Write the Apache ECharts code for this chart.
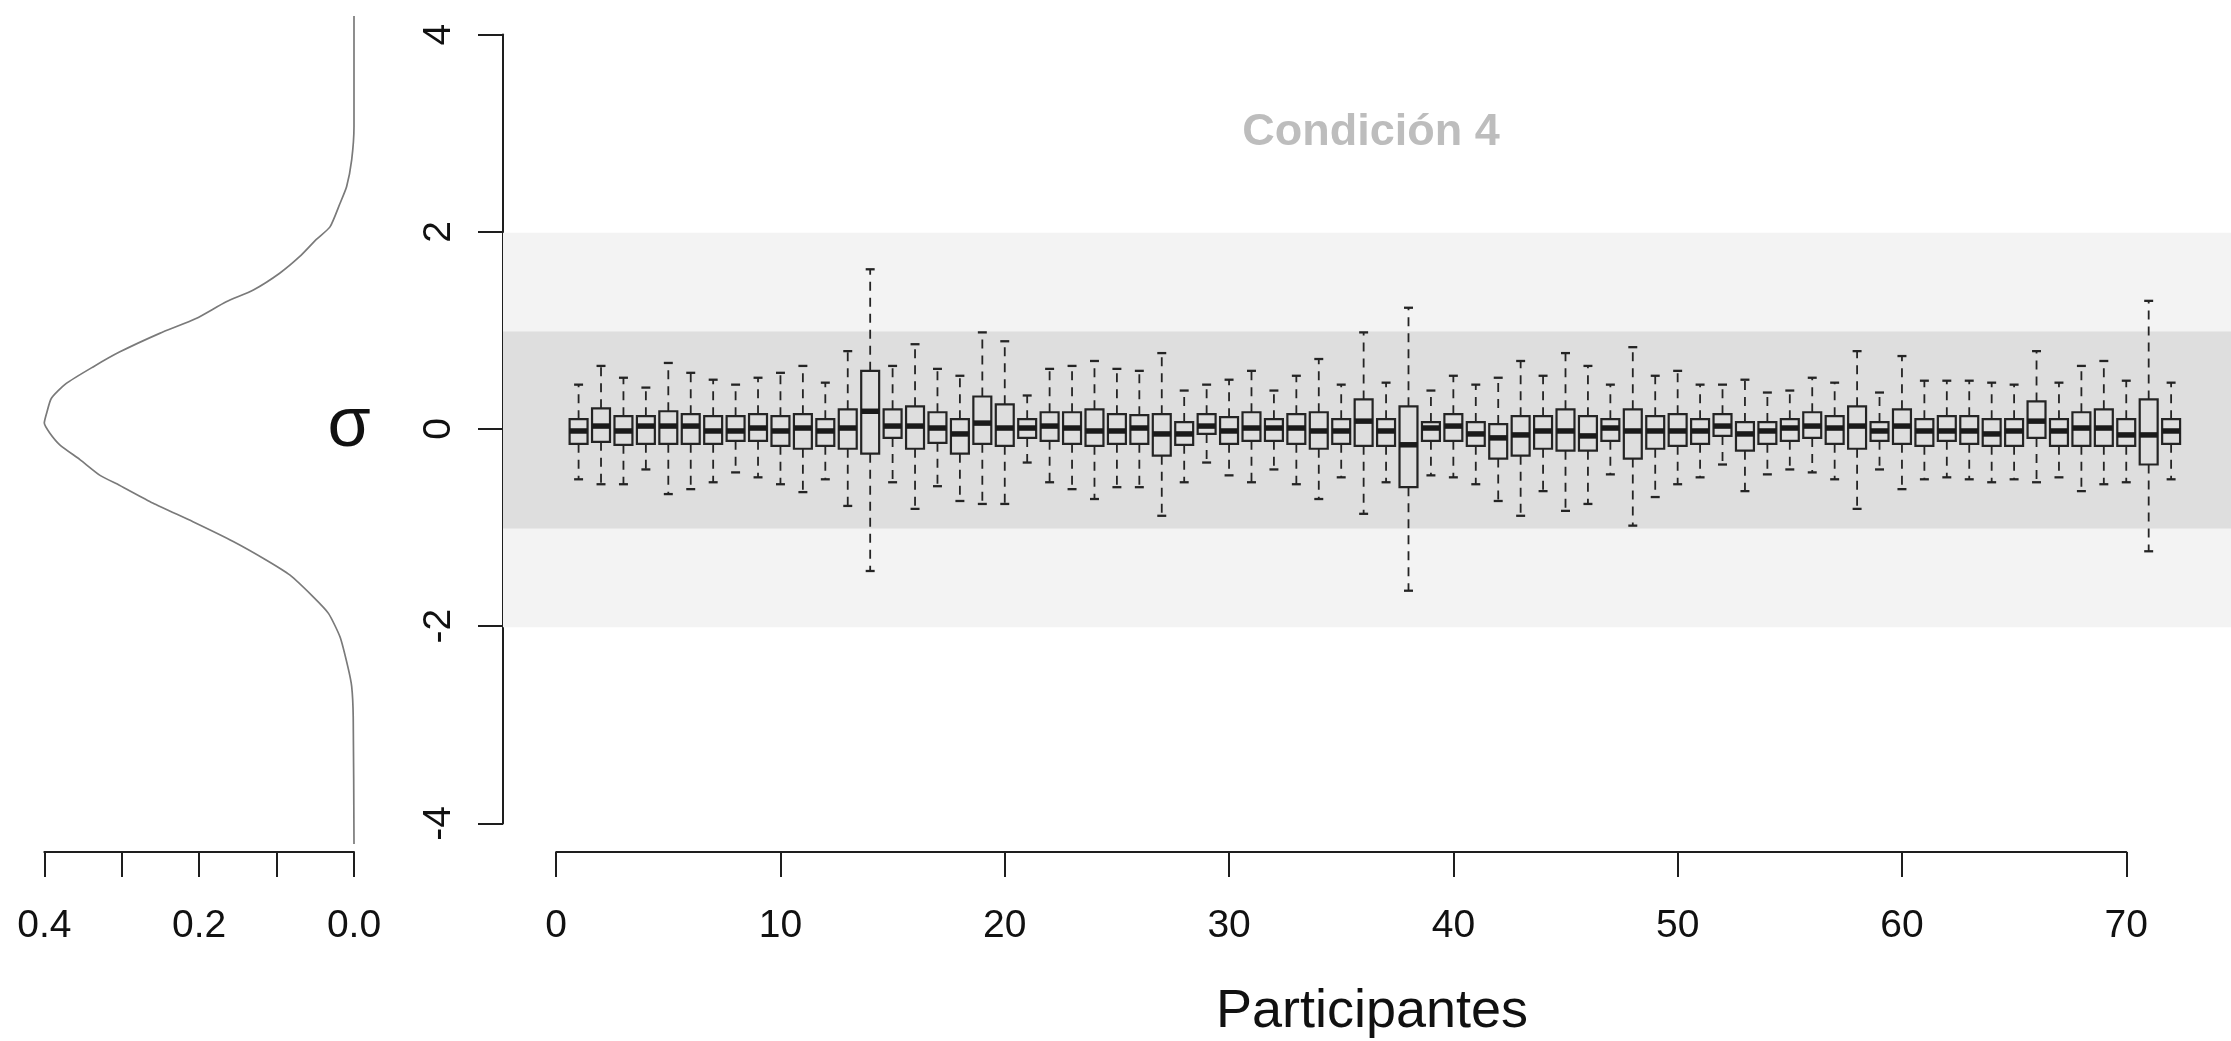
<!DOCTYPE html>
<html>
<head>
<meta charset="utf-8">
<title>Condición 4</title>
<script src="https://cdn.jsdelivr.net/npm/echarts@6/dist/echarts.min.js"></script>
<style>
  html, body { margin: 0; padding: 0; background: #ffffff; }
  #chart { width: 2231px; height: 1041px; }
</style>
</head>
<body>
<div id="chart"></div>
<script>
// Participants 1..72, one box per participant (sigma units)
const participants = Array.from({ length: 72 }, (_, i) => i + 1);

const whiskerHigh = [
  0.46, 0.65, 0.53, 0.43, 0.68, 0.58, 0.51, 0.46, 0.53, 0.58, 0.65, 0.48,
  0.80, 1.63, 0.65, 0.87, 0.62, 0.55, 0.99, 0.90, 0.35, 0.62, 0.65, 0.70,
  0.62, 0.60, 0.78, 0.40, 0.46, 0.51, 0.60, 0.40, 0.55, 0.72, 0.46, 0.99,
  0.48, 1.24, 0.40, 0.55, 0.46, 0.53, 0.70, 0.55, 0.78, 0.65, 0.46, 0.84,
  0.55, 0.60, 0.46, 0.46, 0.51, 0.38, 0.40, 0.53, 0.48, 0.80, 0.38, 0.75,
  0.50, 0.50, 0.50, 0.48, 0.46, 0.80, 0.48, 0.65, 0.70, 0.50, 1.31, 0.48
];
const upperQuartile = [
  0.11, 0.22, 0.14, 0.14, 0.19, 0.16, 0.14, 0.14, 0.16, 0.14, 0.16, 0.11,
  0.21, 0.60, 0.21, 0.24, 0.18, 0.11, 0.34, 0.26, 0.11, 0.18, 0.18, 0.21,
  0.16, 0.15, 0.16, 0.08, 0.16, 0.13, 0.18, 0.11, 0.16, 0.18, 0.11, 0.31,
  0.11, 0.24, 0.08, 0.16, 0.08, 0.06, 0.14, 0.14, 0.21, 0.14, 0.11, 0.21,
  0.14, 0.16, 0.11, 0.16, 0.08, 0.08, 0.11, 0.18, 0.14, 0.24, 0.08, 0.21,
  0.11, 0.14, 0.14, 0.11, 0.11, 0.29, 0.11, 0.18, 0.21, 0.11, 0.31, 0.11
];
const medians = [
  -0.01, 0.04, -0.01, 0.04, 0.04, 0.04, -0.01, -0.01, 0.02, -0.01, 0.02, -0.01,
  0.02, 0.19, 0.04, 0.04, 0.02, -0.04, 0.07, 0.02, 0.02, 0.04, 0.02, -0.01,
  -0.01, 0.02, -0.04, -0.04, 0.04, -0.01, 0.02, 0.02, 0.02, -0.01, -0.01, 0.09,
  -0.01, -0.15, 0.02, 0.04, -0.04, -0.08, -0.05, -0.01, -0.01, -0.06, 0.02, -0.01,
  -0.01, -0.01, -0.01, 0.04, -0.04, -0.01, 0.02, 0.04, 0.02, 0.04, -0.01, 0.04,
  -0.01, -0.01, -0.01, -0.04, -0.01, 0.09, -0.01, 0.02, 0.02, -0.05, -0.05, -0.01
];
const lowerQuartile = [
  -0.14, -0.12, -0.15, -0.14, -0.14, -0.14, -0.14, -0.11, -0.11, -0.16, -0.19, -0.16,
  -0.19, -0.24, -0.08, -0.19, -0.13, -0.24, -0.14, -0.16, -0.08, -0.11, -0.14, -0.16,
  -0.14, -0.14, -0.26, -0.15, -0.04, -0.14, -0.11, -0.11, -0.14, -0.19, -0.14, -0.16,
  -0.16, -0.58, -0.11, -0.11, -0.16, -0.29, -0.26, -0.19, -0.21, -0.21, -0.11, -0.29,
  -0.19, -0.16, -0.14, -0.06, -0.21, -0.14, -0.11, -0.08, -0.14, -0.19, -0.11, -0.14,
  -0.16, -0.11, -0.14, -0.16, -0.16, -0.08, -0.16, -0.16, -0.16, -0.16, -0.35, -0.14
];
const whiskerLow = [
  -0.50, -0.55, -0.55, -0.40, -0.65, -0.60, -0.53, -0.43, -0.48, -0.55, -0.63, -0.50,
  -0.77, -1.43, -0.53, -0.80, -0.57, -0.72, -0.75, -0.75, -0.33, -0.53, -0.60, -0.70,
  -0.58, -0.58, -0.87, -0.53, -0.33, -0.46, -0.53, -0.40, -0.55, -0.70, -0.48, -0.85,
  -0.53, -1.63, -0.46, -0.48, -0.55, -0.72, -0.87, -0.62, -0.82, -0.75, -0.45, -0.97,
  -0.68, -0.55, -0.48, -0.35, -0.62, -0.45, -0.40, -0.43, -0.50, -0.80, -0.40, -0.60,
  -0.50, -0.48, -0.50, -0.53, -0.50, -0.53, -0.48, -0.62, -0.55, -0.53, -1.23, -0.50
];

// Reference density profile (sigma vs. density), top to bottom
const densitySigma = [
  4.20, 3.08, 2.74, 2.47, 2.30, 2.06, 1.93, 1.76, 1.59, 1.42, 1.30, 1.13,
  0.98, 0.79, 0.64, 0.47, 0.32, 0.17, 0.07, -0.03, -0.15, -0.30, -0.46, -0.56,
  -0.74, -0.93, -1.13, -1.32, -1.47, -1.69, -1.86, -2.10, -2.40, -2.60, -2.91, -4.20
];
const densityValue = [
  0.000, 0.000, 0.003, 0.0095, 0.018, 0.031, 0.049, 0.070, 0.096, 0.130, 0.165, 0.204,
  0.251, 0.303, 0.337, 0.372, 0.391, 0.397, 0.400, 0.393, 0.380, 0.354, 0.328, 0.303,
  0.260, 0.208, 0.156, 0.113, 0.083, 0.053, 0.033, 0.018, 0.008, 0.003, 0.001, 0.000
];

// Shaded reference bands: +/-2 sigma and +/-1 sigma
const bandLimits = [2, 1];

// Axis ticks
const sigmaTicks = { min: -4, max: 4, step: 2 };
const participantTicks = { min: 0, max: 70, step: 10 };
const densityTicks = { min: 0, max: 0.4, step: 0.1, labelled: ['0.0', '0.2', '0.4'] };

const FONT = '"Liberation Sans", Arial, sans-serif';
const INK = '#242424';
const AXIS = '#1e1e1e';

const boxData = participants.map((p, i) => [
  p, whiskerLow[i], lowerQuartile[i], medians[i], upperQuartile[i], whiskerHigh[i]
]);
const densityData = densitySigma.map((s, i) => [densityValue[i], s]);

function renderBox(params, api) {
  const x = api.value(0);
  const pLo = api.coord([x, api.value(1)]);
  const pQ1 = api.coord([x, api.value(2)]);
  const pMd = api.coord([x, api.value(3)]);
  const pQ3 = api.coord([x, api.value(4)]);
  const pHi = api.coord([x, api.value(5)]);
  const unit = api.size([1, 0])[0];
  const hw = unit * 0.4;      // box half width
  const sw = hw * 0.5;        // staple half width
  const cx = pMd[0];
  const dashed = { stroke: INK, lineWidth: 1.8, lineDash: [9, 7], fill: null };
  const solid = { stroke: INK, lineWidth: 2.3, fill: null };
  return {
    type: 'group',
    children: [
      { type: 'line', shape: { x1: cx, y1: pQ3[1], x2: cx, y2: pHi[1] }, style: dashed },
      { type: 'line', shape: { x1: cx, y1: pQ1[1], x2: cx, y2: pLo[1] }, style: dashed },
      { type: 'line', shape: { x1: cx - sw, y1: pHi[1], x2: cx + sw, y2: pHi[1] }, style: solid },
      { type: 'line', shape: { x1: cx - sw, y1: pLo[1], x2: cx + sw, y2: pLo[1] }, style: solid },
      {
        type: 'rect',
        shape: { x: cx - hw, y: pQ3[1], width: 2 * hw, height: pQ1[1] - pQ3[1] },
        style: { stroke: INK, lineWidth: 2.2, fill: null }
      },
      {
        type: 'line',
        shape: { x1: cx - hw, y1: pMd[1], x2: cx + hw, y2: pMd[1] },
        style: { stroke: '#1a1a1a', lineWidth: 5.5 }
      }
    ]
  };
}

const tickLabel = { color: '#111', fontFamily: FONT, fontSize: 39 };
const axisLineStyle = { show: true, onZero: false, lineStyle: { color: AXIS, width: 2 } };
const axisTickStyle = { show: true, inside: false, length: 25, lineStyle: { color: AXIS, width: 2 } };

const chart = echarts.init(document.getElementById('chart'), null, { renderer: 'canvas' });
chart.setOption({
  animation: false,
  backgroundColor: '#ffffff',
  grid: [
    // 0: boxes and bands
    { left: 503, top: 8, width: 1728, height: 844 },
    // 1: sigma axis
    { left: 503, top: 34.6, width: 1, height: 788.8 },
    // 2: participant axis
    { left: 556.2, top: 800, width: 1570.1, height: 52 },
    // 3: density profile
    { left: 44.3, top: 8, width: 309.7, height: 844 }
  ],
  xAxis: [
    { gridIndex: 0, type: 'value', min: -2.37, max: 74.67, show: false },
    { gridIndex: 1, type: 'value', min: 0, max: 1, show: false },
    {
      gridIndex: 2, type: 'value', position: 'bottom',
      min: participantTicks.min, max: participantTicks.max, interval: participantTicks.step,
      axisLine: axisLineStyle,
      axisTick: axisTickStyle,
      axisLabel: Object.assign({ margin: 55, showMinLabel: true, showMaxLabel: true }, tickLabel),
      splitLine: { show: false }
    },
    {
      gridIndex: 3, type: 'value', position: 'bottom', inverse: true,
      min: densityTicks.min, max: densityTicks.max, interval: densityTicks.step,
      axisLine: axisLineStyle,
      axisTick: axisTickStyle,
      axisLabel: Object.assign({
        margin: 55, showMinLabel: true, showMaxLabel: true,
        formatter: v => {
          const s = Number(v).toFixed(1);
          return densityTicks.labelled.includes(s) ? s : '';
        }
      }, tickLabel),
      splitLine: { show: false }
    }
  ],
  yAxis: [
    { gridIndex: 0, type: 'value', min: -4.28, max: 4.28, show: false },
    {
      gridIndex: 1, type: 'value', position: 'left',
      min: sigmaTicks.min, max: sigmaTicks.max, interval: sigmaTicks.step,
      axisLine: axisLineStyle,
      axisTick: axisTickStyle,
      axisLabel: Object.assign({ margin: 44, rotate: 90, showMinLabel: true, showMaxLabel: true }, tickLabel),
      splitLine: { show: false }
    },
    { gridIndex: 2, type: 'value', min: 0, max: 1, show: false },
    { gridIndex: 3, type: 'value', min: -4.28, max: 4.28, show: false }
  ],
  series: [
    {
      type: 'line',
      xAxisIndex: 0, yAxisIndex: 0,
      data: [],
      silent: true,
      markArea: {
        silent: true,
        data: [
          [{ yAxis: -bandLimits[0], itemStyle: { color: '#f3f3f3' } }, { yAxis: bandLimits[0] }],
          [{ yAxis: -bandLimits[1], itemStyle: { color: '#dedede' } }, { yAxis: bandLimits[1] }]
        ]
      }
    },
    {
      type: 'custom',
      xAxisIndex: 0, yAxisIndex: 0,
      data: boxData,
      encode: { x: 0, y: [1, 2, 3, 4, 5] },
      renderItem: renderBox,
      silent: true,
      z: 5
    },
    {
      type: 'line',
      xAxisIndex: 3, yAxisIndex: 3,
      data: densityData,
      showSymbol: false,
      symbol: 'none',
      smooth: 0.2,
      lineStyle: { color: '#7a7a7a', width: 1.7 },
      silent: true
    }
  ],
  graphic: [
    {
      type: 'text', x: 1371, y: 133,
      style: {
        text: 'Condición 4', fill: '#bdbdbd', fontFamily: FONT, fontWeight: 'bold', fontSize: 45,
        align: 'center', verticalAlign: 'middle'
      }
    },
    {
      type: 'text', x: 1372, y: 1012,
      style: {
        text: 'Participantes', fill: '#111', fontFamily: FONT, fontSize: 54,
        align: 'center', verticalAlign: 'middle'
      }
    },
    {
      type: 'text', x: 349, y: 427,
      style: {
        text: 'σ', fill: '#111', fontFamily: FONT, fontSize: 70,
        align: 'center', verticalAlign: 'middle'
      }
    }
  ]
});
</script>
</body>
</html>
